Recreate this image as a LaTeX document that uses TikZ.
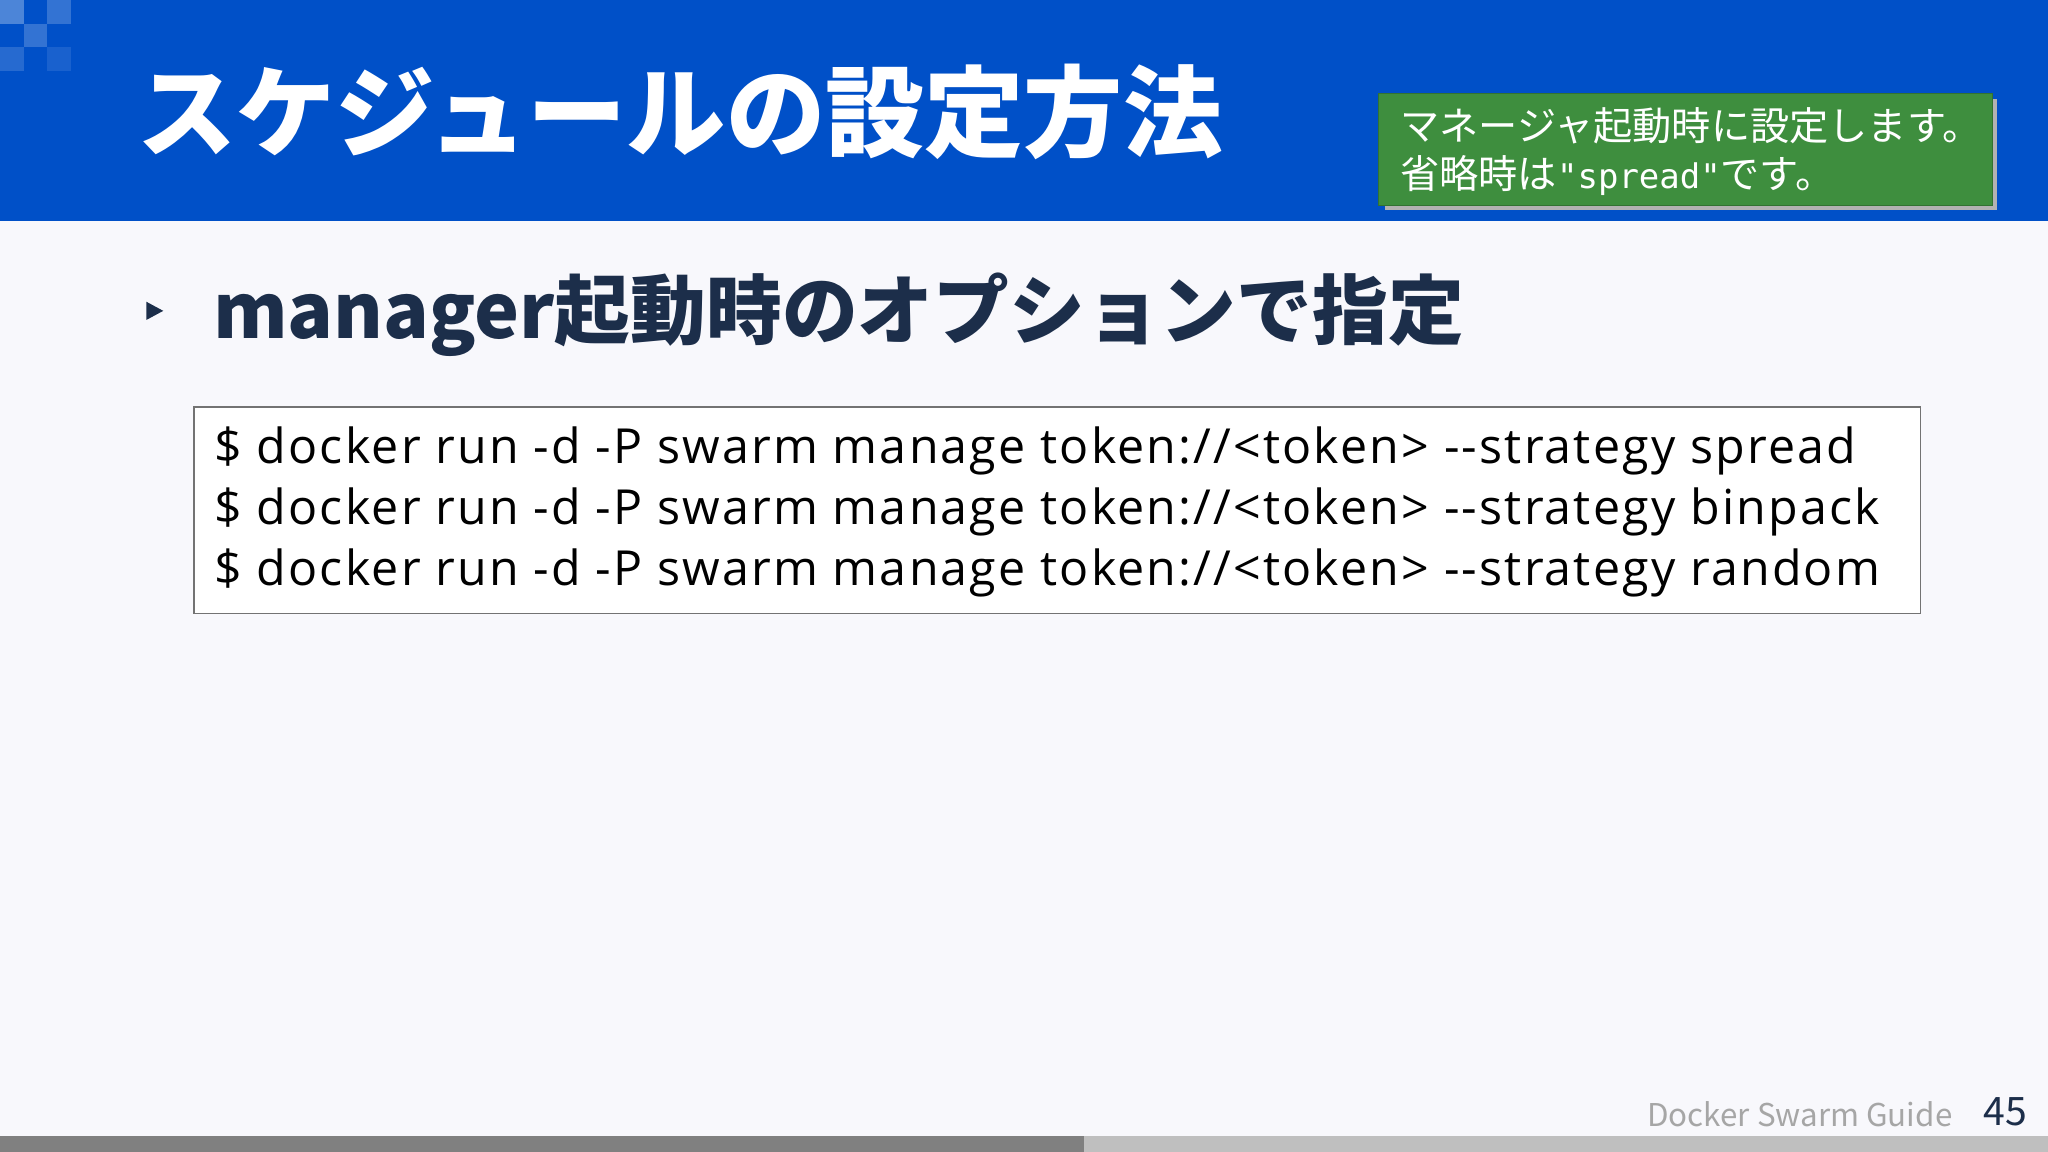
\documentclass[tikz,border=0pt]{standalone}
\usepackage{fontspec}
\setmainfont{Noto Sans CJK JP}[Ligatures=TeXOff]
\newfontfamily\codefont{Open Sans}[Ligatures=TeXOff,LetterSpace=4.5]
\newfontfamily\qmono{DejaVu Sans Mono}
\definecolor{hdr}{HTML}{0050C8}
\definecolor{bg}{HTML}{F8F8FC}
\definecolor{grn}{HTML}{3E8E3E}
\definecolor{navy}{HTML}{1C2E4A}
\tikzset{codeline/.style={anchor=west,inner sep=0pt,font=\codefont\fontsize{37}{40}\selectfont}}
\begin{document}
\begin{tikzpicture}[x=1pt,y=-1pt]
\useasboundingbox (0,0) rectangle (1568,882);
\fill[bg] (0,0) rectangle (1568,882);
\fill[hdr] (0,0) rectangle (1568,169);
\fill[hdr!70!white] (0,0) rectangle (18,18);
\fill[hdr!80!white] (36,0) rectangle (54,18);
\fill[hdr!80!white] (18,18) rectangle (36,36);
\fill[hdr!85!white] (0,36) rectangle (18,54);
\fill[hdr!90!white] (36,36) rectangle (54,54);
\node[anchor=west,text=white,inner sep=0pt,font=\bfseries\fontsize{76}{80}\selectfont] (title) at (105,86) {スケジュールの設定方法};
\fill[black!30] (1060,76) rectangle (1529,161);
\node[fill=grn,draw=grn!80!black,minimum width=470,minimum height=86,anchor=north west,inner sep=0pt] (note) at (1055,71) {};
\node[anchor=west,text=white,align=left,inner sep=0pt,font=\fontsize{30}{37}\selectfont] (notetext) at (1072,116) {マネージャ起動時に設定します。\\省略時は{\qmono\fontsize{26}{30}\selectfont\symbol{34}spread\symbol{34}}です。};
\fill[navy] (112,231) -- (125,238) -- (112,245) -- cycle;
\node[anchor=west,text=navy,inner sep=0pt,font=\bfseries\fontsize{58}{62}\selectfont] (sub) at (163,241) {manager起動時のオプションで指定};
\node[draw=black!55,fill=white,line width=1pt,minimum width=1322,minimum height=158,anchor=north west,inner sep=0pt] (code) at (148,311) {};
\node[codeline] (l1) at (164,345) {\$ docker run -d -P swarm manage token://<token> --strategy spread};
\node[codeline] (l2) at (164,392) {\$ docker run -d -P swarm manage token://<token> --strategy binpack};
\node[codeline] (l3) at (164,439) {\$ docker run -d -P swarm manage token://<token> --strategy random};
\node[anchor=east,text=black!35,inner sep=0pt,font=\fontsize{24}{28}\selectfont] (foot) at (1495,853) {Docker Swarm Guide};
\node[anchor=east,text=navy,inner sep=0pt,font=\fontsize{30}{34}\selectfont] (page) at (1552,851) {45};
\fill[black!25] (0,870) rectangle (1568,882);
\fill[black!50] (0,870) rectangle (830,882);
\end{tikzpicture}
\end{document}
